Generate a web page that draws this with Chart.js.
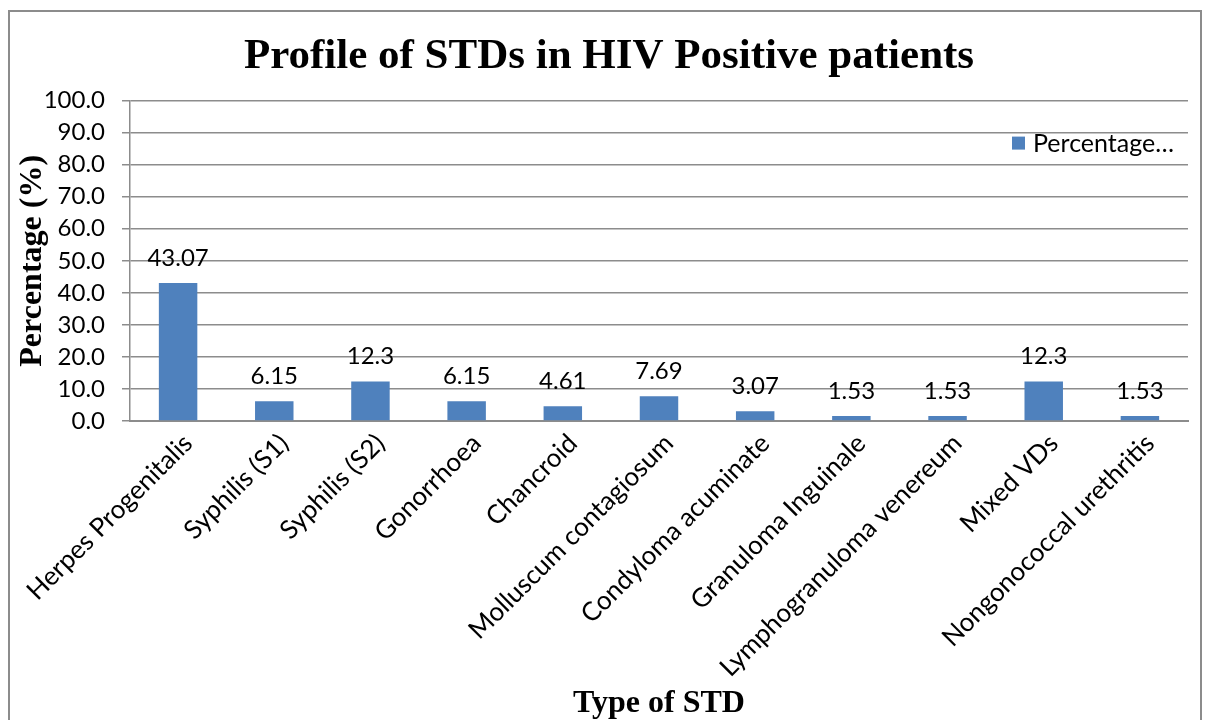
<!DOCTYPE html>
<html>
<head>
<meta charset="utf-8">
<title>Profile of STDs in HIV Positive patients</title>
<script src="https://cdn.jsdelivr.net/npm/chart.js@4.4.1/dist/chart.umd.min.js"></script>
<style>
    html, body { margin: 0; padding: 0; background: #ffffff; }
    #wrap { width: 1205px; height: 720px; }
</style>
</head>
<body>
<div id="wrap"><canvas id="stdChart" width="1205" height="720"></canvas></div>
<script>
// ==========================================
// Data
// ==========================================
var categories = [
    'Herpes Progenitalis', 'Syphilis (S1)', 'Syphilis (S2)', 'Gonorrhoea',
    'Chancroid', 'Molluscum contagiosum', 'Condyloma acuminate',
    'Granuloma Inguinale', 'Lymphogranuloma venereum', 'Mixed VDs',
    'Nongonococcal urethritis'
];
var percentages = [43.07, 6.15, 12.3, 6.15, 4.61, 7.69, 3.07, 1.53, 1.53, 12.3, 1.53];
var seriesLabel = 'Percentage\u2026';
var yTicks = [0, 10, 20, 30, 40, 50, 60, 70, 80, 90, 100];

var BAR_BLUE = '#4f81bd';
var GRID_GREY = '#8c8c8c';
var SANS = 'Lato, "Open Sans", sans-serif';
var SERIF = '"Liberation Serif", "Times New Roman", serif';

// ==========================================
// Plugins
// ==========================================

// Outer frame of the chart object
var framePlugin = {
    id: 'frame',
    beforeDraw: function(chart) {
        var ctx = chart.ctx;
        ctx.save();
        ctx.fillStyle = '#ffffff';
        ctx.fillRect(0, 0, chart.width, chart.height);
        ctx.strokeStyle = GRID_GREY;
        ctx.lineWidth = 2;
        ctx.strokeRect(9, 11, 1192, 730);
        ctx.restore();
    }
};

// Value labels above each bar
var valueLabelPlugin = {
    id: 'valueLabels',
    afterDatasetsDraw: function(chart) {
        var ctx = chart.ctx;
        var meta = chart.getDatasetMeta(0);
        ctx.save();
        ctx.font = '24px ' + SANS;
        ctx.fillStyle = '#000000';
        ctx.textAlign = 'center';
        ctx.textBaseline = 'bottom';
        meta.data.forEach(function(bar, i) {
            ctx.fillText(String(chart.data.datasets[0].data[i]), bar.x, bar.y - 13);
        });
        ctx.restore();
    }
};

// Legend drawn inside the plot area, top right
var innerLegendPlugin = {
    id: 'innerLegend',
    afterDraw: function(chart) {
        var ctx = chart.ctx;
        var ds = chart.data.datasets[0];
        var area = chart.chartArea;
        var x = area.right - 176;
        var y = area.top + 36;
        ctx.save();
        ctx.fillStyle = ds.backgroundColor;
        ctx.fillRect(x, y, 13, 13);
        ctx.font = '25px ' + SANS;
        ctx.fillStyle = '#000000';
        ctx.textAlign = 'left';
        ctx.textBaseline = 'middle';
        ctx.fillText(ds.label, x + 21, y + 7);
        ctx.restore();
    }
};

// ==========================================
// Chart
// ==========================================
new Chart(document.getElementById('stdChart'), {
    type: 'bar',
    data: {
        labels: categories,
        datasets: [{
            label: seriesLabel,
            data: percentages,
            backgroundColor: BAR_BLUE,
            categoryPercentage: 1.0,
            barPercentage: 0.4
        }]
    },
    options: {
        responsive: false,
        animation: false,
        // left padding of 30 keeps the main title centred where the original is
        layout: { padding: { left: 30, right: 17, top: 0, bottom: 0 } },
        plugins: {
            legend: { display: false },
            tooltip: { enabled: false },
            title: {
                display: true,
                text: 'Profile of STDs in HIV Positive patients',
                color: '#000000',
                font: { family: SERIF, size: 43, weight: 'bold', lineHeight: 1.2 },
                padding: { top: 31, bottom: 18 }
            }
        },
        scales: {
            x: {
                grid: { display: false },
                border: { display: true, color: GRID_GREY, width: 2 },
                ticks: {
                    autoSkip: false,
                    minRotation: 45,
                    maxRotation: 45,
                    labelOffset: 10,
                    padding: -1,
                    color: '#000000',
                    font: { family: SANS, size: 26 }
                },
                title: {
                    display: true,
                    text: 'Type of STD',
                    color: '#000000',
                    font: { family: SERIF, size: 32, weight: 'bold', lineHeight: 1.0 },
                    padding: { top: 0, bottom: 0 }
                },
                afterFit: function(scale) { scale.height = 299; }
            },
            y: {
                min: 0,
                max: 100,
                afterBuildTicks: function(scale) {
                    scale.ticks = yTicks.map(function(v) { return { value: v }; });
                },
                grid: { color: GRID_GREY, lineWidth: 1.5, tickLength: 8 },
                border: { display: true, color: GRID_GREY, width: 1.5 },
                ticks: {
                    padding: 17,
                    color: '#000000',
                    font: { family: SANS, size: 24 },
                    callback: function(v) { return Number(v).toFixed(1); }
                },
                title: {
                    display: true,
                    text: 'Percentage (%)',
                    color: '#000000',
                    font: { family: SERIF, size: 32, weight: 'bold', lineHeight: 1.2 },
                    padding: { top: -16, bottom: 0 }
                },
                afterFit: function(scale) { scale.width = 100; }
            }
        }
    },
    plugins: [framePlugin, valueLabelPlugin, innerLegendPlugin]
});
</script>
</body>
</html>
